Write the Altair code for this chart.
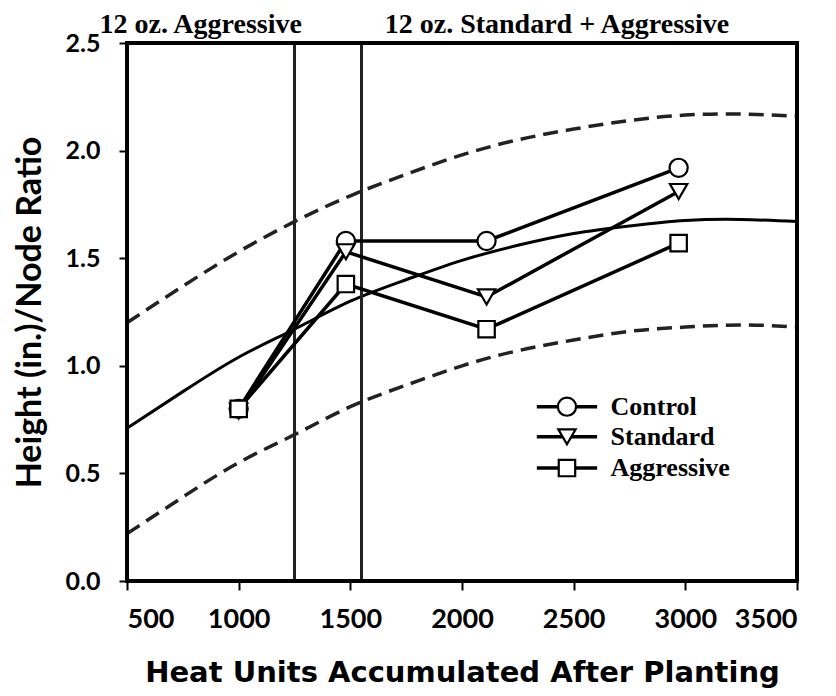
import altair as alt
import pandas as pd

# ---- data ----
series_names = ["Control", "Standard", "Aggressive"]
heat_units = [1000, 1480, 2110, 2970]
control = [0.80, 1.58, 1.58, 1.92]
standard = [0.79, 1.53, 1.32, 1.81]
aggressive = [0.80, 1.38, 1.17, 1.57]

curve_x = [500, 750, 1000, 1250, 1500, 1750, 2000, 2250, 2500, 2750, 3000, 3250, 3500]
curve_mid = [0.71, 0.88, 1.04, 1.17, 1.30, 1.40, 1.49, 1.56, 1.615, 1.65, 1.675, 1.68, 1.67]
curve_upper = [1.20, 1.37, 1.53, 1.67, 1.79, 1.89, 1.98, 2.05, 2.10, 2.14, 2.165, 2.17, 2.16]
curve_lower = [0.22, 0.39, 0.55, 0.68, 0.81, 0.91, 1.00, 1.07, 1.12, 1.16, 1.18, 1.19, 1.18]

vlines = [1250, 1550]
annot_text = ["12 oz. Aggressive", "12 oz. Standard + Aggressive"]
annot_x = [830, 2425]
annot_y = [2.545, 2.545]

legend_x1 = [2335, 2335, 2335]
legend_x2 = [2605, 2605, 2605]
legend_mx = [2470, 2470, 2470]
legend_tx = [2665, 2665, 2665]
legend_y = [0.81, 0.67, 0.525]

# plot frame sides (x, x2, y, y2)
frame_x1 = [500, 500, 500, 3500]
frame_x2 = [3500, 3500, 500, 3500]
frame_y1 = [0.0, 2.5, 0.0, 0.0]
frame_y2 = [0.0, 2.5, 2.5, 2.5]

shapes = ["circle", "triangle-down", "square"]
marker_sizes = [330, 270, 240]

# ---- tables ----
rows = []
for name, vals in zip(series_names, [control, standard, aggressive]):
    for xv, yv in zip(heat_units, vals):
        rows.append({"series": name, "x": xv, "y": yv})
pts = pd.DataFrame(rows)

curves = pd.DataFrame({"x": curve_x, "mid": curve_mid, "upper": curve_upper, "lower": curve_lower})
vl = pd.DataFrame({"x": vlines, "y0": [0.0] * len(vlines), "y1": [2.5] * len(vlines)})
ann = pd.DataFrame({"text": annot_text, "x": annot_x, "y": annot_y})
leg = pd.DataFrame({"series": series_names, "x1": legend_x1, "x2": legend_x2,
                    "mx": legend_mx, "tx": legend_tx, "y": legend_y})
frame = pd.DataFrame({"x": frame_x1, "x2": frame_x2, "y": frame_y1, "y2": frame_y2})

xscale = alt.Scale(domain=[500, 3500], nice=False, zero=False)
yscale = alt.Scale(domain=[0, 2.5], nice=False)
shape_scale = alt.Scale(domain=series_names, range=shapes)
size_scale = alt.Scale(domain=series_names, range=marker_sizes)

xaxis = alt.Axis(values=[500, 1000, 1500, 2000, 2500, 3000, 3500], format="d",
                 title="Heat Units Accumulated After Planting",
                 grid=False, domain=False, tickColor="black", tickSize=9, tickWidth=2,
                 labelFont="Lato", labelFontSize=27, labelFontWeight="bold", labelColor="black",
                 labelPadding=16, titleFont="DejaVu Sans", titleFontSize=29, titleFontWeight="bold",
                 titleColor="black", titlePadding=26)
yaxis = alt.Axis(values=[0, 0.5, 1.0, 1.5, 2.0, 2.5], format=".1f",
                 title="Height (in.)/Node Ratio",
                 grid=False, domain=False, tickColor="black", tickSize=8, tickWidth=2,
                 labelFont="Lato", labelFontSize=25, labelFontWeight="bold", labelColor="black",
                 labelPadding=19, titleFont="Lato", titleFontSize=34, titleFontWeight="bold",
                 titleColor="black", titlePadding=18)

base_axes = alt.Chart(curves).mark_line(opacity=0).encode(
    x=alt.X("x:Q", scale=xscale, axis=xaxis),
    y=alt.Y("mid:Q", scale=yscale, axis=yaxis),
)

box = alt.Chart(frame).mark_rule(color="black", strokeWidth=4, strokeCap="square").encode(
    x=alt.X("x:Q", scale=xscale), x2="x2:Q", y=alt.Y("y:Q", scale=yscale), y2="y2:Q")

mid_line = alt.Chart(curves).mark_line(color="black", strokeWidth=3, interpolate="natural").encode(
    x=alt.X("x:Q", scale=xscale), y=alt.Y("mid:Q", scale=yscale))
up_line = alt.Chart(curves).mark_line(color="#222", strokeWidth=3.5, strokeDash=[15, 8],
                                      interpolate="natural").encode(
    x=alt.X("x:Q", scale=xscale), y=alt.Y("upper:Q", scale=yscale))
lo_line = alt.Chart(curves).mark_line(color="#222", strokeWidth=3.5, strokeDash=[15, 8],
                                      interpolate="natural").encode(
    x=alt.X("x:Q", scale=xscale), y=alt.Y("lower:Q", scale=yscale))

rules = alt.Chart(vl).mark_rule(color="#222", strokeWidth=3).encode(
    x=alt.X("x:Q", scale=xscale), y=alt.Y("y0:Q", scale=yscale), y2="y1:Q")

series_lines = alt.Chart(pts).mark_line(color="black", strokeWidth=3.5).encode(
    x=alt.X("x:Q", scale=xscale), y=alt.Y("y:Q", scale=yscale),
    detail="series:N")

series_pts = alt.Chart(pts).mark_point(filled=True, fill="white", stroke="black",
                                       strokeWidth=2.2, opacity=1).encode(
    x=alt.X("x:Q", scale=xscale), y=alt.Y("y:Q", scale=yscale),
    shape=alt.Shape("series:N", scale=shape_scale, legend=None),
    size=alt.Size("series:N", scale=size_scale, legend=None),
)

leg_lines = alt.Chart(leg).mark_rule(color="black", strokeWidth=3.5).encode(
    x=alt.X("x1:Q", scale=xscale), x2="x2:Q", y=alt.Y("y:Q", scale=yscale))
leg_pts = alt.Chart(leg).mark_point(filled=True, fill="white", stroke="black",
                                    strokeWidth=2.2, opacity=1).encode(
    x=alt.X("mx:Q", scale=xscale), y=alt.Y("y:Q", scale=yscale),
    shape=alt.Shape("series:N", scale=shape_scale, legend=None),
    size=alt.Size("series:N", scale=size_scale, legend=None),
)
leg_text = alt.Chart(leg).mark_text(align="left", baseline="middle", font="Liberation Serif",
                                    fontSize=26, fontWeight="bold", color="black").encode(
    x=alt.X("tx:Q", scale=xscale), y=alt.Y("y:Q", scale=yscale), text="series:N")

ann_text = alt.Chart(ann).mark_text(align="center", baseline="alphabetic", font="Liberation Serif",
                                    fontSize=28, fontWeight="bold", color="black", clip=False).encode(
    x=alt.X("x:Q", scale=xscale), y=alt.Y("y:Q", scale=yscale), text="text:N")

chart = alt.layer(
    base_axes, up_line, lo_line, mid_line, rules, series_lines, series_pts,
    leg_lines, leg_pts, leg_text, box, ann_text
).properties(
    width=670, height=538,
    background="white",
    autosize=alt.AutoSizeParams(type="none"),
    padding={"left": 119, "top": 35, "right": 31, "bottom": 107},
).configure_view(
    stroke=None
)

chart.save("out.html", embed_options={"renderer": "svg", "actions": False})
